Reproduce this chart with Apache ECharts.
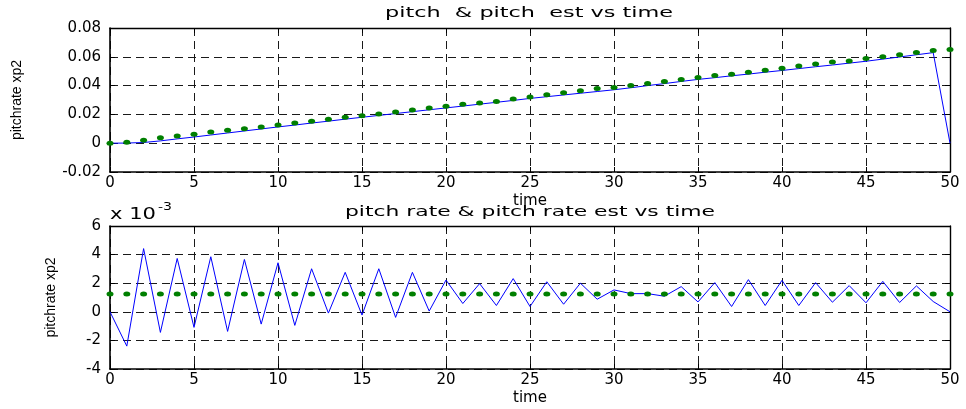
<!DOCTYPE html>
<html>
<head>
<meta charset="utf-8">
<script src="https://cdn.jsdelivr.net/npm/echarts@6/dist/echarts.min.js"></script>
<style>
html,body{margin:0;padding:0;background:#fff;}
#chart{width:966px;height:409px;}
</style>
</head>
<body>
<div id="chart"></div>
<script>
// ---- data ----
var time = [0,1,2,3,4,5,6,7,8,9,10,11,12,13,14,15,16,17,18,19,20,21,22,23,24,25,26,27,28,29,30,31,32,33,34,35,36,37,38,39,40,41,42,43,44,45,46,47,48,49,50];
var xTicks = [0,5,10,15,20,25,30,35,40,45,50];
var pitch = [0,0.0001,0.0005,0.0016,0.003,0.0043,0.0057,0.0071,0.0085,0.0099,0.0113,0.0126,0.014,0.0153,0.0167,0.018,0.0193,0.0206,0.0219,0.0232,0.0245,0.0258,0.0271,0.0284,0.0297,0.0311,0.0323,0.0335,0.0347,0.0359,0.0371,0.0385,0.04,0.0414,0.0429,0.0443,0.0455,0.0468,0.048,0.0493,0.0505,0.0518,0.0531,0.0543,0.0556,0.0569,0.0584,0.0599,0.0614,0.0629,0];
var pitchEst = [0,0.0007,0.002,0.0037,0.005,0.0063,0.0077,0.009,0.0101,0.0113,0.0126,0.014,0.0153,0.0167,0.018,0.019,0.0203,0.0216,0.023,0.0244,0.0256,0.027,0.028,0.029,0.0307,0.0321,0.0336,0.035,0.0364,0.0379,0.0386,0.04,0.0414,0.0429,0.0443,0.0457,0.0471,0.0479,0.0493,0.0507,0.0521,0.0536,0.055,0.0564,0.0571,0.0588,0.06,0.0614,0.0629,0.0643,0.065];
// pitch rate values in units of 1e-3
var pitchRate = [0,-2.4,4.42,-1.44,3.73,-1.09,3.85,-1.37,3.66,-0.86,3.43,-0.95,3.01,-0.09,2.76,-0.23,3.01,-0.39,2.76,0.05,2.22,0.58,1.97,0.44,2.32,0.37,2.1,0.53,2.0,0.88,1.53,1.27,1.27,1.09,1.76,0.69,2.04,0.37,2.25,0.44,2.2,0.44,2.04,0.67,1.83,0.63,2.13,0.65,1.81,0.72,0.0];
var pitchRateEst = [1.25,1.25,1.25,1.25,1.25,1.25,1.25,1.25,1.25,1.25,1.25,1.25,1.25,1.25,1.25,1.25,1.25,1.25,1.25,1.25,1.25,1.25,1.25,1.25,1.25,1.25,1.25,1.25,1.25,1.25,1.25,1.25,1.25,1.25,1.25,1.25,1.25,1.25,1.25,1.25,1.25,1.25,1.25,1.25,1.25,1.25,1.25,1.25,1.25,1.25,1.25];
var yTicksTop = [-0.02,0,0.02,0.04,0.06,0.08];
var yTicksBottom = [-4,-2,0,2,4,6];
var titles = ['pitch  & pitch  est vs time', 'pitch rate & pitch rate est vs time'];
var xName = 'time';
var yName = 'pitchrate xp2';
var scaleLabel = 'x 10';
var scaleExp = '-3';

function pairs(xs, ys){ return xs.map(function(x,i){ return [x, ys[i]]; }); }

var FONT = 'DejaVu Sans';
var measureCtx = document.createElement('canvas').getContext('2d');
function textW(t, size){ measureCtx.font = size + 'px "' + FONT + '"'; return measureCtx.measureText(t).width; }

var dashed = {show:true, lineStyle:{color:'#1a1a1a', type:[8,5], width:1}};
function xAxisMain(gi){
  return {type:'value', gridIndex:gi, min:xTicks[0], max:xTicks[xTicks.length-1], interval:xTicks[1]-xTicks[0],
    name:xName, nameLocation:'middle', nameGap:gi===0?22:22,
    nameTextStyle:{color:'#000', fontFamily:FONT, fontSize:15},
    axisLine:{show:true, onZero:false, lineStyle:{color:'#000', width:1.6}},
    axisTick:{show:true, inside:true, length:5, lineStyle:{color:'#000'}},
    axisLabel:{color:'#000', fontFamily:FONT, fontSize:15, margin:4},
    splitLine:dashed};
}
function xAxisTop(gi){
  return {type:'value', gridIndex:gi, position:'top', min:xTicks[0], max:xTicks[xTicks.length-1], interval:xTicks[1]-xTicks[0],
    axisLine:{show:true, onZero:false, lineStyle:{color:'#000', width:1.4}},
    axisTick:{show:true, inside:true, length:5, lineStyle:{color:'#000'}},
    axisLabel:{show:false}, splitLine:{show:false}};
}
function yAxisMain(gi, ticks, gap, fmt){
  return {type:'value', gridIndex:gi, min:ticks[0], max:ticks[ticks.length-1], interval:Math.round((ticks[1]-ticks[0])*1000)/1000,
    name:yName, nameLocation:'middle', nameGap:gap, nameRotate:90,
    nameTextStyle:{color:'#000', fontFamily:'Liberation Sans', fontSize:14},
    axisLine:{show:true, onZero:false, lineStyle:{color:'#000', width:1.6}},
    axisTick:{show:true, inside:true, length:5, lineStyle:{color:'#000'}},
    axisLabel:{color:'#000', fontFamily:FONT, fontSize:15, margin:9, formatter:fmt},
    splitLine:dashed};
}
function yAxisRight(gi, ticks){
  return {type:'value', gridIndex:gi, position:'right', min:ticks[0], max:ticks[ticks.length-1], interval:Math.round((ticks[1]-ticks[0])*1000)/1000,
    axisLine:{show:true, onZero:false, lineStyle:{color:'#000', width:1.4}},
    axisTick:{show:true, inside:true, length:5, lineStyle:{color:'#000'}},
    axisLabel:{show:false}, splitLine:{show:false}};
}

var fmtTop = function(v){ return v === 0 ? '0' : v.toFixed(2); };
var fmtBottom = function(v){ return String(Math.round(v)); };

function stretchedText(text, x, y, targetW, size, align, vAlign){
  var w = textW(text, size);
  var s = targetW / w;
  return {type:'text', x:x, y:y, scaleX:s, scaleY:1, style:{text:text, fill:'#000', font:size+'px "'+FONT+'"', textAlign:align, textVerticalAlign:vAlign}, z:10};
}

var chart = echarts.init(document.getElementById('chart'), null, {renderer:'canvas'});
chart.setOption({
  animation:false,
  backgroundColor:'#fff',
  grid:[
    {left:110, top:28, width:840, height:144},
    {left:110, top:226, width:840, height:143}
  ],
  xAxis:[xAxisMain(0), xAxisTop(0), xAxisMain(1), xAxisTop(1)],
  yAxis:[yAxisMain(0, yTicksTop, 86, fmtTop), yAxisRight(0, yTicksTop), yAxisMain(1, yTicksBottom, 52, fmtBottom), yAxisRight(1, yTicksBottom)],
  graphic:[
    stretchedText(titles[0], 529, 13, 288, 14, 'center', 'middle'),
    stretchedText(titles[1], 530, 212, 370, 14, 'center', 'middle'),
    stretchedText(scaleLabel, 110, 215, 46, 15, 'left', 'middle'),
    stretchedText(scaleExp, 158, 207, 14, 11, 'left', 'middle')
  ],
  series:[
    {type:'line', xAxisIndex:0, yAxisIndex:0, data:pairs(time, pitch), symbol:'none', lineStyle:{color:'#0000ff', width:1}, z:2},
    {type:'scatter', xAxisIndex:0, yAxisIndex:0, data:pairs(time, pitchEst), symbol:'circle', symbolSize:[7,5], itemStyle:{color:'#007f00', opacity:1}, z:3},
    {type:'line', xAxisIndex:2, yAxisIndex:2, data:pairs(time, pitchRate), symbol:'none', lineStyle:{color:'#0000ff', width:1}, z:2},
    {type:'scatter', xAxisIndex:2, yAxisIndex:2, data:pairs(time, pitchRateEst), symbol:'circle', symbolSize:[7,5], itemStyle:{color:'#007f00', opacity:1}, z:3}
  ]
});
</script>
</body>
</html>
